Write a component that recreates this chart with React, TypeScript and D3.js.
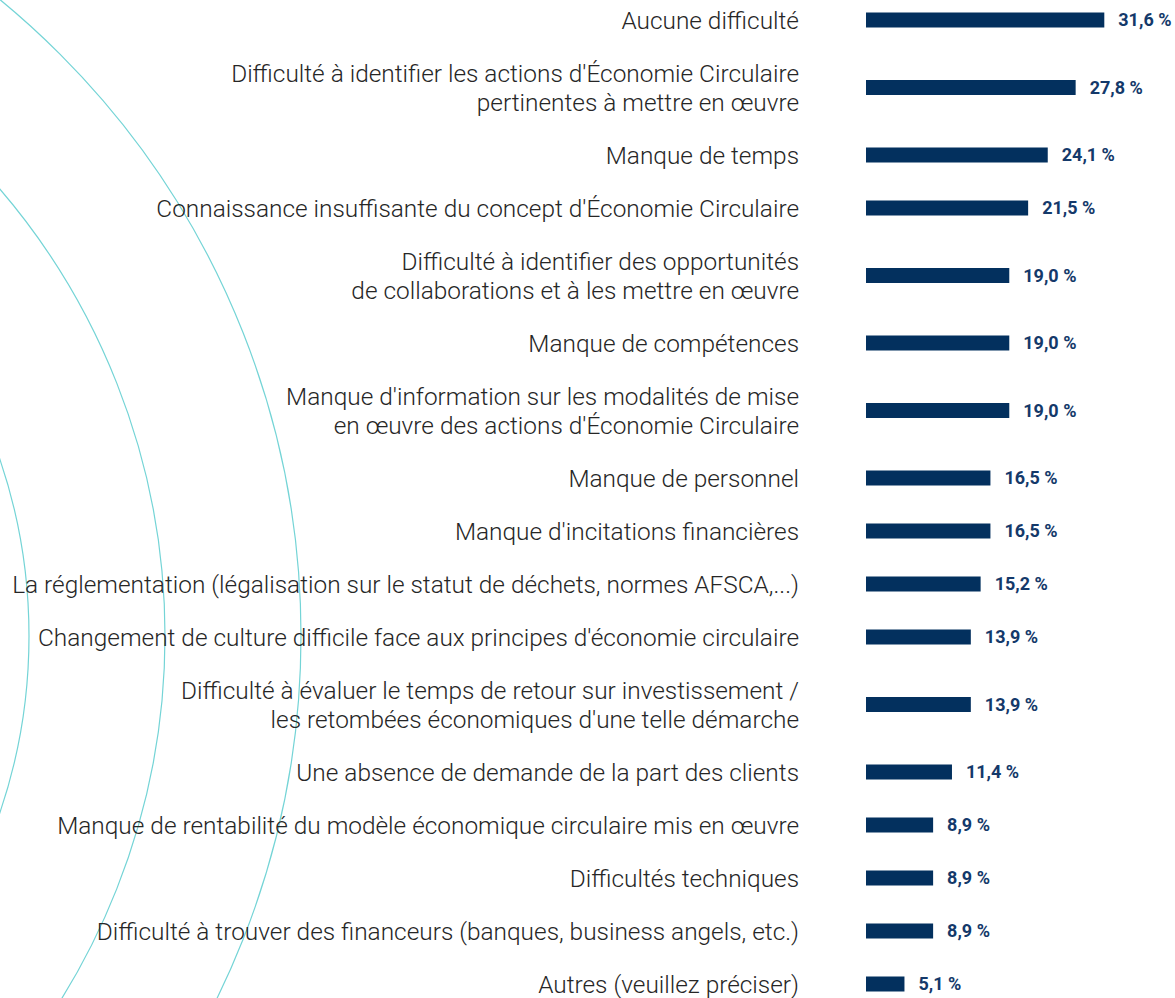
import React from 'react'
import * as d3 from 'd3'

// categories (multi-line labels split into arrays)
const labels: string[][] = [
  ['Aucune difficulté'],
  ["Difficulté à identifier les actions d'Économie Circulaire", 'pertinentes à mettre en œuvre'],
  ['Manque de temps'],
  ["Connaissance insuffisante du concept d'Économie Circulaire"],
  ['Difficulté à identifier des opportunités', 'de collaborations et à les mettre en œuvre'],
  ['Manque de compétences'],
  ["Manque d'information sur les modalités de mise", "en œuvre des actions d'Économie Circulaire"],
  ['Manque de personnel'],
  ["Manque d'incitations financières"],
  ['La réglementation (légalisation sur le statut de déchets, normes AFSCA,...)'],
  ["Changement de culture difficile face aux principes d'économie circulaire"],
  ['Difficulté à évaluer le temps de retour sur investissement /', "les retombées économiques d'une telle démarche"],
  ['Une absence de demande de la part des clients'],
  ['Manque de rentabilité du modèle économique circulaire mis en œuvre'],
  ['Difficultés techniques'],
  ['Difficulté à trouver des financeurs (banques, business angels, etc.)'],
  ['Autres (veuillez préciser)'],
]

const values: number[] = [31.6, 27.8, 24.1, 21.5, 19.0, 19.0, 19.0, 16.5, 16.5, 15.2, 13.9, 13.9, 11.4, 8.9, 8.9, 8.9, 5.1]

// decorative background rings
const ringRadii: number[] = [551, 687, 823]

const W = 1175
const H = 998
const LINE_H = 29
const ROW_PAD = 24
const BAR_X = 866
const LABEL_X = 799
const BAR_H = 15

const fmt = (v: number) => d3.format('.1f')(v).replace('.', ',') + ' %'

export default function App() {
  const x = d3.scaleLinear().domain([0, 31.6]).range([0, 238.3])

  // each row gets a height from its number of label lines
  const heights = labels.map((l) => ROW_PAD + LINE_H * l.length)
  const tops = [0, ...Array.from(d3.cumsum(heights))]
  const centers = heights.map((h, i) => -6.5 + tops[i] + h / 2)

  return (
    <svg
      width={W}
      height={H}
      style={{ position: 'absolute', left: 0, top: 0, background: '#fff' }}
    >
      <g>
        {ringRadii.map((r) => (
          <circle key={r} cx={-522} cy={636} r={r} fill="none" stroke="#74d4d6" strokeWidth={1.2} />
        ))}
      </g>
      {labels.map((lines, i) => {
        const cy = centers[i]
        const first = cy + 8.5 - ((lines.length - 1) * LINE_H) / 2
        return (
          <g key={i}>
            <text
              x={LABEL_X}
              textAnchor="end"
              fontFamily="Roboto"
              fontWeight={300}
              fontSize={24.4}
              fill="#262626"
            >
              {lines.map((t, j) => (
                <tspan key={j} x={LABEL_X} y={first + j * LINE_H}>
                  {t}
                </tspan>
              ))}
            </text>
            <rect x={BAR_X} y={cy - BAR_H / 2} width={x(values[i])} height={BAR_H} fill="#03305e" />
            <text
              x={BAR_X + x(values[i]) + 14}
              y={cy + 6}
              fontFamily="Roboto"
              fontWeight={700}
              fontSize={18}
              fill="#14396a"
            >
              {fmt(values[i])}
            </text>
          </g>
        )
      })}
    </svg>
  )
}
